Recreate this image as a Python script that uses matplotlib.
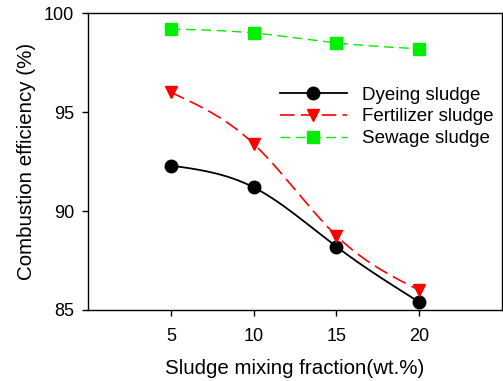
import numpy as np
import matplotlib
matplotlib.use("Agg")
import matplotlib.pyplot as plt
from matplotlib.lines import Line2D

fractions = [5, 10, 15, 20]
dyeing = [92.3, 91.2, 88.2, 85.4]
fertilizer = [96.0, 93.4, 88.75, 86.0]
sewage = [99.2, 99.0, 98.5, 98.2]
labels = ["Dyeing sludge", "Fertilizer sludge", "Sewage sludge"]

plt.rcParams['font.family'] = ['Liberation Sans', 'DejaVu Sans']
plt.rcParams['lines.scale_dashes'] = False


def natural_spline(x, y, n=200):
    x = np.asarray(x, float)
    y = np.asarray(y, float)
    k = len(x)
    h = np.diff(x)
    A = np.zeros((k, k))
    b = np.zeros(k)
    A[0, 0] = 1
    A[-1, -1] = 1
    for i in range(1, k - 1):
        A[i, i - 1] = h[i - 1]
        A[i, i] = 2 * (h[i - 1] + h[i])
        A[i, i + 1] = h[i]
        b[i] = 3 * ((y[i + 1] - y[i]) / h[i] - (y[i] - y[i - 1]) / h[i - 1])
    c = np.linalg.solve(A, b)
    xs = np.linspace(x[0], x[-1], n)
    ys = np.empty_like(xs)
    for j, xv in enumerate(xs):
        i = min(np.searchsorted(x, xv, side='right') - 1, k - 2)
        bi = (y[i + 1] - y[i]) / h[i] - h[i] * (2 * c[i] + c[i + 1]) / 3
        di = (c[i + 1] - c[i]) / (3 * h[i])
        t = xv - x[i]
        ys[j] = y[i] + bi * t + c[i] * t ** 2 + di * t ** 3
    return xs, ys


fig = plt.figure(figsize=(5.03, 3.81), dpi=100)
ax = fig.add_axes([0.175, 0.1864, 0.823, 0.779])

styles = [
    dict(color='black', ls='-', lw=1.3, marker='o', ms=9, dashes=None),
    dict(color='#ff0000', ls='--', lw=1.2, marker='v', ms=9, dashes=(10.5, 4.5)),
    dict(color='#00ee00', ls='--', lw=1.0, marker='s', ms=8, dashes=(7, 4)),
]
series = [dyeing, fertilizer, sewage]
handles = []
for ys_, st, lab in zip(series, styles, labels):
    xs, yy = natural_spline(fractions, ys_)
    line, = ax.plot(xs, yy, color=st['color'], lw=st['lw'], ls=st['ls'])
    if st['dashes']:
        line.set_dashes(st['dashes'])
    ax.plot(fractions, ys_, ls='none', marker=st['marker'], ms=st['ms'],
            color=st['color'], mec=st['color'])
    h = Line2D([0], [0], color=st['color'], lw=st['lw'], ls=st['ls'],
               marker=st['marker'], ms=st['ms'], mec=st['color'])
    if st['dashes']:
        h.set_dashes(st['dashes'])
    handles.append(h)

ax.set_xlim(0, 25)
ax.set_ylim(85, 100)
ax.set_xticks([5, 10, 15, 20])
ax.set_yticks([85, 90, 95, 100])
ax.tick_params(direction='out', length=4, width=1, labelsize=13, pad=6)
ax.tick_params(axis='x', pad=9)
for s in ax.spines.values():
    s.set_linewidth(1.0)

ax.set_xlabel("Sludge mixing fraction(wt.%)", fontsize=14.8, labelpad=10)
ax.set_ylabel("Combustion efficiency (%)", fontsize=14.8, labelpad=6)

leg = ax.legend(handles, labels, loc='upper left', bbox_to_anchor=(0.464, 0.753),
                frameon=False, fontsize=13.5, handlelength=3.55, handletextpad=0.8,
                labelspacing=0.25, borderaxespad=0, borderpad=0)

fig.savefig("out.png", dpi=100)
